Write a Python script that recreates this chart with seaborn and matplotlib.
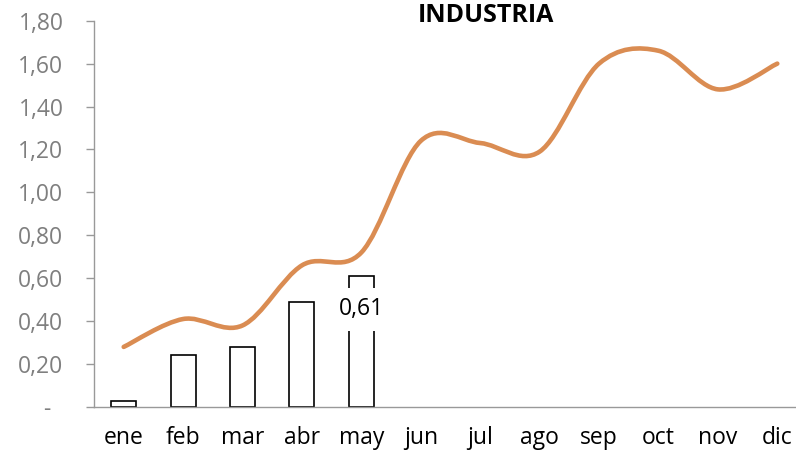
import matplotlib
matplotlib.use("Agg")
import matplotlib.pyplot as plt
from matplotlib.path import Path
from matplotlib.patches import PathPatch
import seaborn as sns
import pandas as pd

# datos
meses = ['ene', 'feb', 'mar', 'abr', 'may', 'jun', 'jul', 'ago', 'sep', 'oct', 'nov', 'dic']
barras_meses = ['ene', 'feb', 'mar', 'abr', 'may']
barras_valores = [0.03, 0.24, 0.28, 0.49, 0.61]
linea_valores = [0.28, 0.41, 0.38, 0.66, 0.72, 1.24, 1.23, 1.19, 1.60, 1.66, 1.48, 1.60]
yticks = [0, 0.2, 0.4, 0.6, 0.8, 1.0, 1.2, 1.4, 1.6, 1.8]

sns.set_style("white")
plt.rcParams['font.family'] = ['Open Sans', 'DejaVu Sans']

W, H = 796, 453
fig = plt.figure(figsize=(W / 100, H / 100), dpi=100)
ax = fig.add_axes([94 / W, 46 / H, (807 - 94) / W, (407 - 20.7) / H])

df = pd.DataFrame({'mes': barras_meses, 'valor': barras_valores})
sns.barplot(data=df, x='mes', y='valor', order=meses, width=0.42,
            color='white', edgecolor='black', linewidth=1.2, ax=ax)

# linea suavizada (bezier como excel)
pts = list(enumerate(linea_valores))
verts = [pts[0]]
codes = [Path.MOVETO]
n = len(pts)
for i in range(n - 1):
    p0 = pts[max(i - 1, 0)]
    p1 = pts[i]
    p2 = pts[i + 1]
    p3 = pts[min(i + 2, n - 1)]
    c1 = (p1[0] + (p2[0] - p0[0]) / 6, p1[1] + (p2[1] - p0[1]) / 6)
    c2 = (p2[0] - (p3[0] - p1[0]) / 6, p2[1] - (p3[1] - p1[1]) / 6)
    verts += [c1, c2, p2]
    codes += [Path.CURVE4] * 3
ax.add_patch(PathPatch(Path(verts, codes), facecolor='none', edgecolor='#DA8C52',
                       lw=3.3, capstyle='round', joinstyle='round', zorder=5))

# etiqueta de mayo
ax.annotate(f"{barras_valores[-1]:.2f}".replace('.', ','), (4, 0.455),
            ha='center', va='center', fontsize=16.5, color='black', zorder=6,
            bbox=dict(boxstyle='square,pad=0.4', facecolor='white', edgecolor='none'))

ax.set_xlim(-0.5, 11.5)
ax.set_ylim(0, 1.8)
ax.set_yticks(yticks)
ax.set_yticklabels(['-  '] + [f"{v:.2f}".replace('.', ',') for v in yticks[1:]])
ax.set_xticks(range(12))
ax.set_xticklabels(meses)
ax.set_xticks([i - 0.5 for i in range(13)], minor=True)
ax.tick_params(axis='x', which='major', length=0, pad=14, labelsize=16.5, labelcolor='black')
ax.tick_params(axis='x', which='minor', length=6, width=1, color='#999999', direction='out')
ax.tick_params(axis='y', length=6, width=1, color='#999999', direction='out',
               pad=16, labelsize=16.5, labelcolor='#7F7F7F', left=True)
ax.set_xlabel('')
ax.set_ylabel('')
for s in ['top', 'right']:
    ax.spines[s].set_visible(False)
for s in ['left', 'bottom']:
    ax.spines[s].set_color('#999999')
    ax.spines[s].set_linewidth(1)

fig.text(486 / W, 1 - 16 / H, 'INDUSTRIA', ha='center', va='center',
         fontsize=18, fontweight='bold', color='black')

fig.savefig('out.png', dpi=100)
